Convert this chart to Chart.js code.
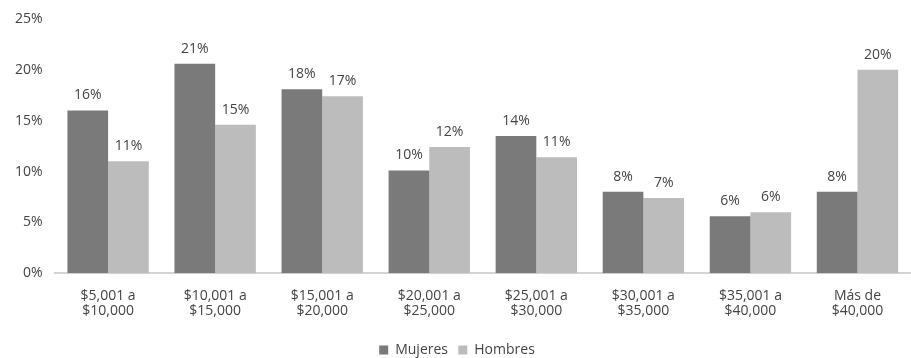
<!DOCTYPE html>
<html>
<head>
<meta charset="utf-8">
<script src="https://cdn.jsdelivr.net/npm/chart.js@4.4.1/dist/chart.umd.min.js"></script>
<style>
  html, body { margin: 0; padding: 0; background: #fff; }
  #wrap { width: 911px; height: 358px; }
</style>
</head>
<body>
<div id="wrap"><canvas id="myChart"></canvas></div>
<script>
var categorias = [
  ["$5,001 a", "$10,000"],
  ["$10,001 a", "$15,000"],
  ["$15,001 a", "$20,000"],
  ["$20,001 a", "$25,000"],
  ["$25,001 a", "$30,000"],
  ["$30,001 a", "$35,000"],
  ["$35,001 a", "$40,000"],
  ["Más de", "$40,000"],
];
var mujeres = [16.0, 20.6, 18.1, 10.1, 13.5, 8.0, 5.6, 8.0];
var hombres = [11.0, 14.6, 17.4, 12.4, 11.4, 7.4, 6.0, 20.0];
var ticksY = [0, 5, 10, 15, 20, 25];

var fuente = "'Open Sans', 'Noto Sans', sans-serif";
var gris = "#444444";

// rounded percentage written over each bar
var etiquetas = {
  id: "etiquetas",
  afterDatasetsDraw: function (chart) {
    var c = chart.ctx;
    c.save();
    c.font = "14px " + fuente;
    c.fillStyle = gris;
    c.textAlign = "center";
    c.textBaseline = "bottom";
    chart.data.datasets.forEach(function (ds, i) {
      chart.getDatasetMeta(i).data.forEach(function (bar, j) {
        c.fillText(Math.round(ds.data[j]) + "%", bar.x, bar.y - 8);
      });
    });
    c.restore();
  },
};

var ctx = document.getElementById("myChart");
var myChart = new Chart(ctx, {
  type: "bar",
  data: {
    labels: categorias,
    datasets: [
      {
        label: "Mujeres",
        data: mujeres,
        backgroundColor: "#7a7a7a",
        categoryPercentage: 0.76,
        barPercentage: 1,
      },
      {
        label: "Hombres",
        data: hombres,
        backgroundColor: "#bcbcbc",
        categoryPercentage: 0.76,
        barPercentage: 1,
      },
    ],
  },
  options: {
    responsive: true,
    maintainAspectRatio: false,
    animation: false,
    layout: { padding: { top: -2, right: 0, left: 3, bottom: -9 } },
    plugins: {
      legend: {
        position: "bottom",
        labels: {
          boxWidth: 9,
          boxHeight: 9,
          padding: 3,
          color: gris,
          font: { family: fuente, size: 14 },
          // a little more room between the two entries
          generateLabels: function (chart) {
            var items = Chart.defaults.plugins.legend.labels.generateLabels(chart);
            items.forEach(function (it, i) {
              if (i < items.length - 1) it.text = it.text + "  ";
            });
            return items;
          },
        },
      },
      tooltip: { enabled: false },
    },
    scales: {
      x: {
        grid: { display: false, drawTicks: false },
        border: { color: "#d4d4d4", width: 2 },
        ticks: {
          color: gris,
          padding: 15,
          maxRotation: 0,
          font: { family: fuente, size: 14, lineHeight: 1.1 },
        },
        afterFit: function (axis) {
          axis.height += 6;
        },
      },
      y: {
        min: 0,
        max: 25,
        afterBuildTicks: function (axis) {
          axis.ticks = ticksY.map(function (v) { return { value: v }; });
        },
        grid: { display: false, drawTicks: false },
        border: { display: false },
        ticks: {
          color: gris,
          padding: 12,
          font: { family: fuente, size: 14, lineHeight: 1 },
          callback: function (v) { return v + "%"; },
        },
      },
    },
  },
  plugins: [etiquetas],
});
</script>
</body>
</html>
